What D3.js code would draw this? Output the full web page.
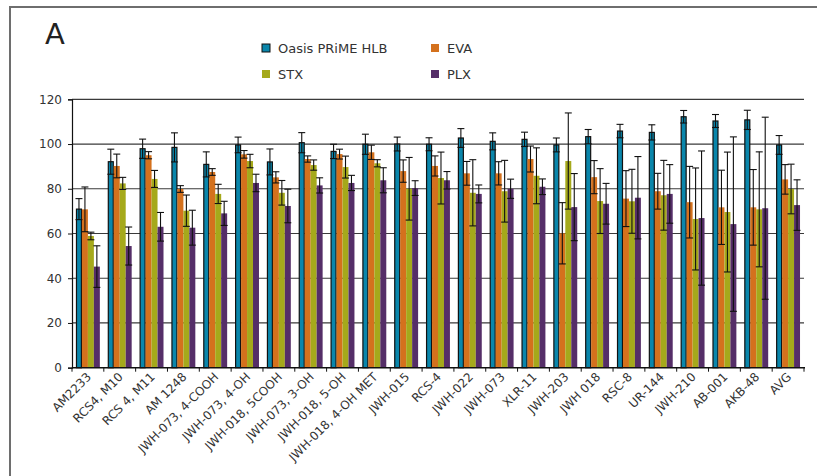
<!DOCTYPE html>
<html>
<head>
<meta charset="utf-8">
<script src="https://cdn.jsdelivr.net/npm/d3@7"></script>
<style>
  html, body { margin: 0; padding: 0; background: #fff; }
  svg { display: block; font-family: "DejaVu Sans", Verdana, sans-serif; }
</style>
</head>
<body>
<svg id="chart" width="817" height="476"></svg>
<script>
const categories = ["AM2233", "RCS4, M10", "RCS 4, M11", "AM 1248", "JWH-073, 4-COOH", "JWH-073, 4-OH",
  "JWH-018, 5COOH", "JWH-073, 3-OH", "JWH-018, 5-OH", "JWH-018, 4-OH MET", "JWH-015", "RCS-4",
  "JWH-022", "JWH-073", "XLR-11", "JWH-203", "JWH 018", "RSC-8", "UR-144", "JWH-210", "AB-001", "AKB-48", "AVG"];
const seriesNames = ["Oasis PRiME HLB", "EVA", "STX", "PLX"];
const hlbValues = [70.9, 92.1, 97.9, 98.5, 90.9, 99.6, 92.0, 100.6, 96.7, 99.9, 100.0, 99.9, 102.7, 101.2, 102.1, 99.6, 103.3, 105.8, 105.2, 112.2, 110.3, 110.8, 99.6];
const hlbErrors = [4.7, 5.6, 4.3, 6.5, 5.6, 3.5, 5.8, 4.5, 3.2, 4.5, 3.1, 2.9, 4.2, 3.8, 3.2, 3.1, 3.2, 3.0, 3.4, 2.8, 2.9, 4.3, 4.2];
const evaValues = [70.8, 90.2, 95.0, 79.9, 87.5, 95.4, 85.1, 93.3, 95.5, 96.3, 87.9, 90.2, 86.9, 86.9, 93.3, 60.1, 85.2, 75.6, 78.9, 74.0, 71.7, 71.7, 84.2];
const evaErrors = [10.0, 5.3, 1.6, 1.5, 1.5, 1.7, 2.5, 1.4, 2.2, 3.2, 5.0, 4.5, 5.3, 5.2, 5.8, 13.7, 7.4, 12.5, 8.0, 16.0, 16.6, 16.9, 6.6];
const stxValues = [58.9, 82.4, 84.4, 70.2, 77.7, 92.4, 78.2, 90.6, 89.7, 91.4, 80.0, 84.8, 78.2, 78.9, 85.8, 92.4, 74.5, 74.4, 77.1, 66.5, 69.6, 70.8, 79.9];
const stxErrors = [1.7, 2.7, 3.8, 7.0, 4.3, 3.0, 5.5, 2.3, 4.9, 1.6, 14.0, 11.6, 14.8, 13.8, 12.5, 21.5, 14.5, 14.3, 15.6, 22.8, 26.8, 25.7, 11.1];
const plxValues = [45.2, 54.4, 63.0, 62.6, 69.0, 82.6, 72.3, 81.5, 82.6, 83.8, 80.3, 83.8, 77.7, 80.0, 80.9, 71.8, 73.3, 76.0, 77.7, 66.9, 64.2, 71.3, 72.7];
const plxErrors = [9.3, 8.5, 6.4, 7.8, 5.4, 3.9, 7.5, 3.4, 3.4, 5.6, 3.3, 3.9, 4.0, 4.3, 3.5, 15.0, 9.1, 18.4, 13.1, 30.0, 39.0, 40.7, 11.3];
const yTicks = [0, 20, 40, 60, 80, 100, 120];
const colors = ["#0a86ab", "#d4711d", "#a5a91b", "#552e68"];
const panelLabel = "A";

const valuesBySeries = [hlbValues, evaValues, stxValues, plxValues];
const errorsBySeries = [hlbErrors, evaErrors, stxErrors, plxErrors];

const svg = d3.select("#chart");

// outer frame
svg.append("rect").attr("x", 10).attr("y", 7).attr("width", 830).attr("height", 500)
  .attr("fill", "none").attr("stroke", "#6e6e6e").attr("stroke-width", 2);

const plotLeft = 72, plotRight = 804, plotTop = 99.3, plotBottom = 367.7;

const x = d3.scaleBand().domain(categories).range([plotLeft, plotRight]).paddingInner(0.25).paddingOuter(0.125);
const xs = d3.scaleBand().domain(seriesNames).range([0, x.bandwidth()]).padding(0);
const y = d3.scaleLinear().domain([0, 120]).range([plotBottom, plotTop]);

// gridlines
svg.append("g").selectAll("line").data(yTicks.filter(d => d > 0)).join("line")
  .attr("x1", plotLeft).attr("x2", plotRight)
  .attr("y1", d => y(d)).attr("y2", d => y(d))
  .attr("stroke", "#3a3a3a").attr("stroke-width", 1.2);

// bars
const rows = [];
categories.forEach((c, i) => {
  seriesNames.forEach((s, j) => {
    rows.push({ cat: c, series: s, j, value: valuesBySeries[j][i], err: errorsBySeries[j][i] });
  });
});

const g = svg.append("g");
g.selectAll("rect.bar").data(rows).join("rect")
  .attr("class", "bar")
  .attr("x", d => x(d.cat) + xs(d.series) + (d.j === 0 ? 0.5 : 0))
  .attr("width", d => xs.bandwidth() - (d.j === 0 ? 1 : 0))
  .attr("y", d => y(d.value))
  .attr("height", d => y(0) - y(d.value))
  .attr("fill", d => colors[d.j])
  .attr("stroke", d => d.j === 0 ? "#111" : "none")
  .attr("stroke-width", 1.2);

// error bars
const eg = svg.append("g").attr("stroke", "#111").attr("stroke-width", 1.1);
rows.forEach(d => {
  const cx = x(d.cat) + xs(d.series) + xs.bandwidth() / 2;
  const hw = xs.bandwidth() / 2 + 0.5;
  const y1 = y(d.value + d.err), y2 = y(d.value - d.err);
  eg.append("line").attr("x1", cx).attr("x2", cx).attr("y1", y1).attr("y2", y2);
  eg.append("line").attr("x1", cx - hw).attr("x2", cx + hw).attr("y1", y1).attr("y2", y1);
  eg.append("line").attr("x1", cx - hw).attr("x2", cx + hw).attr("y1", y2).attr("y2", y2);
});

// y axis
const yAxis = d3.axisLeft(y).tickValues(yTicks).tickSize(4).tickPadding(6);
const yg = svg.append("g").attr("transform", `translate(${plotLeft},0)`).call(yAxis);
yg.select(".domain").attr("stroke", "#111").attr("stroke-width", 1.2);
yg.selectAll(".tick line").attr("stroke", "#111");
yg.selectAll(".tick text").attr("font-size", 12).attr("fill", "#333")
  .attr("font-family", "DejaVu Sans, sans-serif");

// x axis
const step = x.step();
const boundaries = d3.range(categories.length + 1).map(i => plotLeft + i * step);
svg.append("line").attr("x1", plotLeft).attr("x2", plotRight + 1).attr("y1", plotBottom).attr("y2", plotBottom)
  .attr("stroke", "#111").attr("stroke-width", 1.4);
svg.append("g").selectAll("line").data(boundaries).join("line")
  .attr("x1", d => d).attr("x2", d => d).attr("y1", plotBottom).attr("y2", plotBottom + 4)
  .attr("stroke", "#111");
svg.append("g").selectAll("text").data(categories).join("text")
  .attr("transform", d => `translate(${x(d) + x.bandwidth() / 2 + 4},${plotBottom + 10}) rotate(-45)`)
  .attr("text-anchor", "end")
  .attr("font-size", 12)
  .attr("fill", "#333")
  .text(d => d);

// panel label
svg.append("text").attr("x", 45).attr("y", 44).attr("font-size", 29).attr("fill", "#222").text(panelLabel);

// legend
const legendPos = [[262, 44], [431, 44], [262, 70], [431, 70]];
const lg = svg.append("g");
seriesNames.forEach((s, j) => {
  const [lx, ly] = legendPos[j];
  lg.append("rect").attr("x", lx).attr("y", ly).attr("width", 8).attr("height", 8)
    .attr("fill", colors[j]).attr("stroke", j === 0 ? "#111" : "none").attr("stroke-width", 1);
  lg.append("text").attr("x", lx + 16).attr("y", ly + 9).attr("font-size", 13).attr("fill", "#333").text(s);
});
</script>
</body>
</html>
